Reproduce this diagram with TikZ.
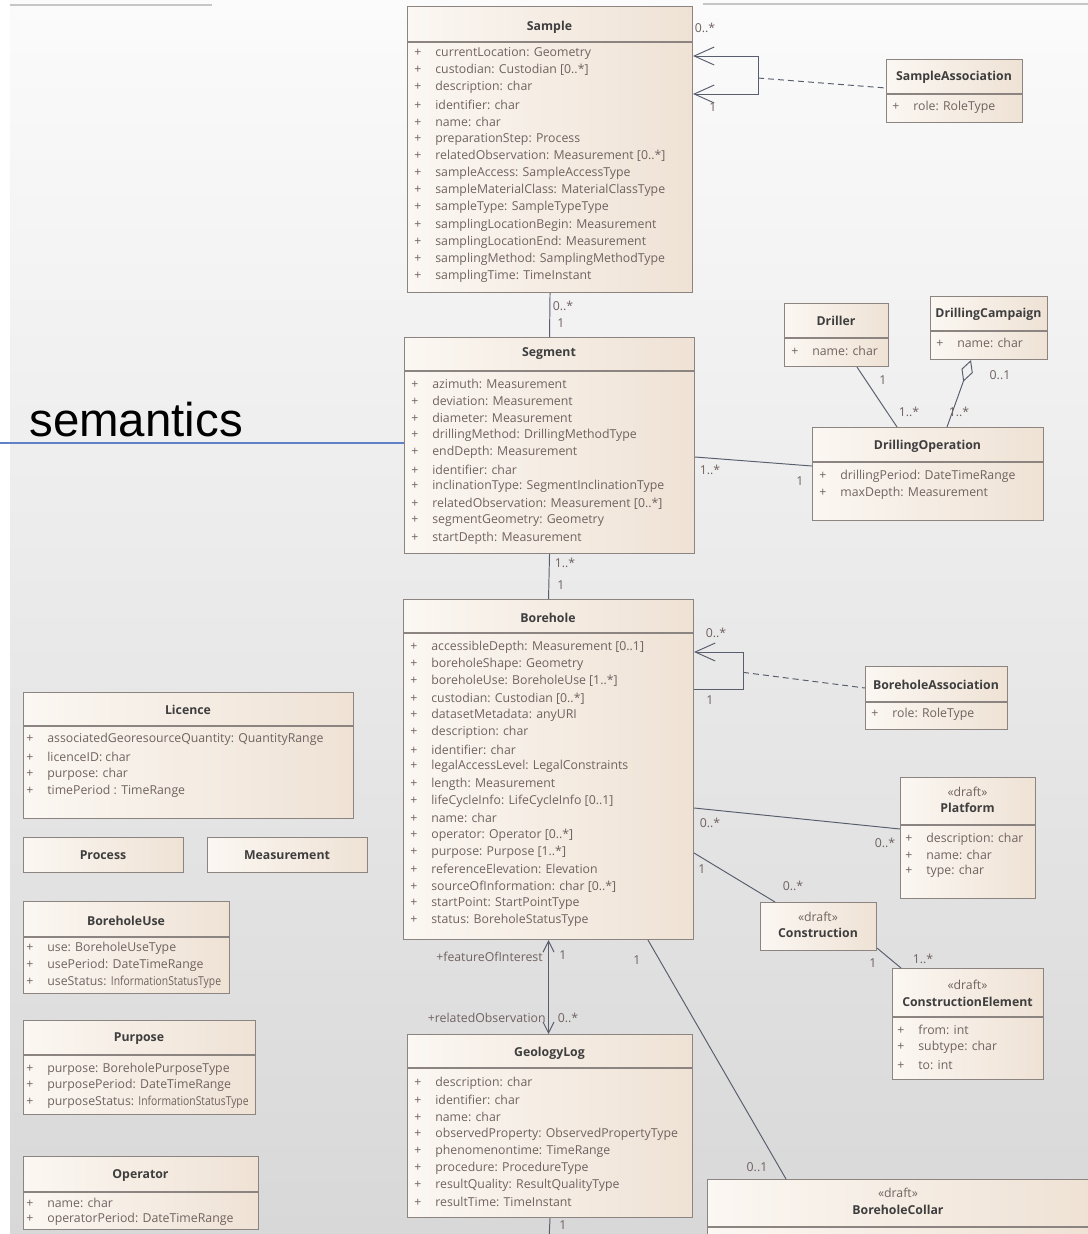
\documentclass[tikz,border=0pt]{standalone}
\usepackage{fontspec}
\usepackage{graphicx}
\newfontfamily\umlfont{Open Sans}
\newfontfamily\slidefont{Liberation Sans}
\usetikzlibrary{positioning, calc, arrows.meta}

\definecolor{boxleft}{RGB}{251,247,242}
\definecolor{boxright}{RGB}{239,226,213}
\definecolor{boxline}{RGB}{140,132,128}
\definecolor{linecol}{RGB}{88,94,110}
\definecolor{attrgray}{RGB}{112,98,96}
\definecolor{titlegray}{RGB}{62,62,62}
\definecolor{bgtop}{RGB}{251,251,251}
\definecolor{bgbot}{RGB}{216,216,216}
\definecolor{slideblue}{RGB}{96,128,200}

\newcommand{\pxu}{0.02cm}
\newcommand{\pl}{\makebox[0.42cm][l]{+}}
\newcommand{\squeezed}[1]{\scalebox{0.84}[1]{#1}}
\newcommand{\classsep}[2]{\draw[sepline] ($(#1.north west)+(0,#2)$) -- ($(#1.north east)+(0,#2)$);}

\tikzset{
  bigbarb/.tip={Straight Barb[length=4mm, width=3.6mm]},
  smallbarb/.tip={Straight Barb[length=2.2mm, width=2.2mm]},
  hollowdiamond/.tip={Diamond[open, length=4.6mm, width=2.4mm]}
}

\begin{document}
\begin{tikzpicture}[x=0.02cm, y=-0.02cm,
  umltext/.style={font=\umlfont\fontsize{7}{8}\selectfont, inner sep=0pt},
  classbox/.style={draw=boxline, line width=0.6pt, left color=boxleft, right color=boxright, inner sep=0pt, anchor=north west},
  sepline/.style={draw=boxline, line width=0.6pt},
  classtitle/.style={umltext, font=\umlfont\bfseries\fontsize{7}{8}\selectfont, text=titlegray},
  stereo/.style={umltext, text=attrgray},
  attr/.style={umltext, text=attrgray, anchor=west},
  mult/.style={umltext, text=attrgray},
  assoc/.style={draw=linecol, line width=0.55pt},
  assocdash/.style={assoc, dash pattern=on 1.2mm off 0.8mm}]

\useasboundingbox (0,0) rectangle (1088,1234);
\fill[white] (0,0) rectangle (1088,1234);
\fill[top color=bgtop, bottom color=bgbot] (10,0) rectangle (1088,1234);
\draw[gray!45, line width=0.6pt] (10,5) -- (212,5);
\draw[gray!45, line width=0.6pt] (703,4) -- (1088,4);

% main chain
\node[classbox, minimum width=285*\pxu, minimum height=286*\pxu] (sample) at (407,6) {};
\classsep{sample}{36}
\node[classtitle] (sample-t) at (549.5,27) {Sample};
\foreach \a [count=\i] in {currentLocation: Geometry, custodian: Custodian [0..*], description: char, identifier: char, name: char, preparationStep: Process, relatedObservation: Measurement [0..*], sampleAccess: SampleAccessType, sampleMaterialClass: MaterialClassType, sampleType: SampleTypeType, samplingLocationBegin: Measurement, samplingLocationEnd: Measurement, samplingMethod: SamplingMethodType, samplingTime: TimeInstant}
  \node[attr] (sample-\i) at (414,{53+(\i-1)*17.2}) {\pl\a};

\node[classbox, minimum width=290*\pxu, minimum height=216*\pxu] (segment) at (404,337) {};
\classsep{segment}{34}
\node[classtitle] (segment-t) at (549,354) {Segment};
\foreach \a [count=\i] in {azimuth: Measurement, deviation: Measurement, diameter: Measurement, drillingMethod: DrillingMethodType, endDepth: Measurement, identifier: char, inclinationType: SegmentInclinationType, relatedObservation: Measurement [0..*], segmentGeometry: Geometry, startDepth: Measurement}
  \node[attr] (segment-\i) at (411,{384+(\i-1)*17.1}) {\pl\a};

\node[classbox, minimum width=290*\pxu, minimum height=340*\pxu] (borehole) at (403,599) {};
\classsep{borehole}{34}
\node[classtitle] (borehole-t) at (548,618) {Borehole};
\foreach \a [count=\i] in {accessibleDepth: Measurement [0..1], boreholeShape: Geometry, boreholeUse: BoreholeUse [1..*], custodian: Custodian [0..*], datasetMetadata: anyURI, description: char, identifier: char, legalAccessLevel: LegalConstraints, length: Measurement, lifeCycleInfo: LifeCycleInfo [0..1], name: char, operator: Operator [0..*], purpose: Purpose [1..*], referenceElevation: Elevation, sourceOfInformation: char [0..*], startPoint: StartPointType, status: BoreholeStatusType}
  \node[attr] (borehole-\i) at (410,{647+(\i-1)*17.1}) {\pl\a};

\node[classbox, minimum width=285*\pxu, minimum height=183*\pxu] (geolog) at (407,1034) {};
\classsep{geolog}{34}
\node[classtitle] (geolog-t) at (549.5,1053) {GeologyLog};
\foreach \a [count=\i] in {description: char, identifier: char, name: char, observedProperty: ObservedPropertyType, phenomenontime: TimeRange, procedure: ProcedureType, resultQuality: ResultQualityType, resultTime: TimeInstant}
  \node[attr] (geolog-\i) at (414,{1083+(\i-1)*17}) {\pl\a};

% right side
\node[classbox, minimum width=136*\pxu, minimum height=63*\pxu] (sampleassoc) at (886,59) {};
\classsep{sampleassoc}{35}
\node[classtitle] (sampleassoc-t) at (954,77) {SampleAssociation};
\node[attr] (sampleassoc-1) at (892,107) {\pl role: RoleType};

\node[classbox, minimum width=104*\pxu, minimum height=63*\pxu] (driller) at (784,303) {};
\classsep{driller}{35}
\node[classtitle] (driller-t) at (836,321) {Driller};
\node[attr] (driller-1) at (791,351) {\pl name: char};

\node[classbox, minimum width=117*\pxu, minimum height=63*\pxu] (campaign) at (930,296) {};
\classsep{campaign}{35}
\node[classtitle] (campaign-t) at (988.5,314) {DrillingCampaign};
\node[attr] (campaign-1) at (936,343) {\pl name: char};

\node[classbox, minimum width=231*\pxu, minimum height=93*\pxu] (drillop) at (812,427) {};
\classsep{drillop}{35}
\node[classtitle] (drillop-t) at (927.5,446) {DrillingOperation};
\node[attr] (drillop-1) at (819,476) {\pl drillingPeriod: DateTimeRange};
\node[attr] (drillop-2) at (819,493) {\pl maxDepth: Measurement};

\node[classbox, minimum width=142*\pxu, minimum height=63*\pxu] (boreassoc) at (865,666) {};
\classsep{boreassoc}{36}
\node[classtitle] (boreassoc-t) at (936,685) {BoreholeAssociation};
\node[attr] (boreassoc-1) at (871,714) {\pl role: RoleType};

\node[classbox, minimum width=135*\pxu, minimum height=121*\pxu] (platform) at (900,777) {};
\classsep{platform}{48}
\node[stereo] (platform-s) at (967.5,792) {«draft»};
\node[classtitle] (platform-t) at (967.5,808) {Platform};
\foreach \a [count=\i] in {description: char, name: char, type: char}
  \node[attr] (platform-\i) at (905,{839+(\i-1)*16.3}) {\pl\a};

\node[classbox, minimum width=116*\pxu, minimum height=48*\pxu] (construction) at (760,902) {};
\node[stereo] (construction-s) at (818,917) {«draft»};
\node[classtitle] (construction-t) at (818,933) {Construction};

\node[classbox, minimum width=151*\pxu, minimum height=111*\pxu] (conselem) at (892,968) {};
\classsep{conselem}{49}
\node[stereo] (conselem-s) at (967.5,985) {«draft»};
\node[classtitle] (conselem-t) at (967.5,1002) {ConstructionElement};
\foreach \a [count=\i] in {from: int, subtype: char, to: int}
  \node[attr] (conselem-\i) at (897,{1030+(\i-1)*17.3}) {\pl\a};

\node[classbox, minimum width=382*\pxu, minimum height=80*\pxu] (collar) at (707,1179) {};
\classsep{collar}{48}
\node[stereo] (collar-s) at (898,1193) {«draft»};
\node[classtitle] (collar-t) at (898,1210) {BoreholeCollar};

% left side
\node[classbox, minimum width=330*\pxu, minimum height=126*\pxu] (licence) at (23,692) {};
\classsep{licence}{34}
\node[classtitle] (licence-t) at (188,710) {Licence};
\foreach \a [count=\i] in {associatedGeoresourceQuantity: QuantityRange, licenceID: char, purpose: char, timePeriod : TimeRange}
  \node[attr] (licence-\i) at (26,{739+(\i-1)*17.5}) {\pl\a};

\node[classbox, minimum width=160*\pxu, minimum height=35*\pxu] (process) at (23,837) {};
\node[classtitle] (process-t) at (103,855) {Process};
\node[classbox, minimum width=160*\pxu, minimum height=35*\pxu] (measurement) at (207,837) {};
\node[classtitle] (measurement-t) at (287,855) {Measurement};

\node[classbox, minimum width=206*\pxu, minimum height=92*\pxu] (boreuse) at (23,901) {};
\classsep{boreuse}{36}
\node[classtitle] (boreuse-t) at (126,921) {BoreholeUse};
\foreach \a [count=\i] in {use: BoreholeUseType, usePeriod: DateTimeRange, useStatus: \squeezed{InformationStatusType}}
  \node[attr] (boreuse-\i) at (26,{948+(\i-1)*17}) {\pl\a};

\node[classbox, minimum width=232*\pxu, minimum height=94*\pxu] (purpose) at (23,1020) {};
\classsep{purpose}{35}
\node[classtitle] (purpose-t) at (139,1039) {Purpose};
\foreach \a [count=\i] in {purpose: BoreholePurposeType, purposePeriod: DateTimeRange, purposeStatus: \squeezed{InformationStatusType}}
  \node[attr] (purpose-\i) at (26,{1069+(\i-1)*16.7}) {\pl\a};

\node[classbox, minimum width=235*\pxu, minimum height=73*\pxu] (operator) at (23,1156) {};
\classsep{operator}{36}
\node[classtitle] (operator-t) at (140.5,1176) {Operator};
\foreach \a [count=\i] in {name: char, operatorPeriod: DateTimeRange}
  \node[attr] (operator-\i) at (26,{1203+(\i-1)*16.5}) {\pl\a};

% slide label
\node[font=\slidefont\fontsize{27}{30}\selectfont, inner sep=0pt, anchor=base west] (semantics) at (29,436) {semantics};
\coordinate (semleft) at (0,443);
\draw[slideblue, line width=0.8pt] (semleft) -- (semleft -| segment.west);

% connectors
\draw[assoc, bigbarb-bigbarb] ($(sample.north east)+(0,50)$) -- ++(65,0) coordinate (sloop-a) -- ++(0,38) coordinate (sloop-b) -- ($(sample.north east)+(0,88)$);
\coordinate (sloop) at ($(sloop-a)!0.58!(sloop-b)$);
\draw[assocdash] (sloop) -- ($(sampleassoc.north west)+(0,29)$);
\draw[assoc] (sample.south) -- (segment.north);
\draw[assoc] ($(segment.north east)+(0,120)$) -- ($(drillop.north west)+(0,39)$);
\draw[assoc] ($(driller.south west)+(73,0)$) -- ($(drillop.north west)+(85,0)$);
\draw[assoc, hollowdiamond-] ($(campaign.south west)+(41,0)$) -- ($(drillop.north west)+(135,0)$);
\draw[assoc] (segment.south) -- (borehole.north);
\draw[assoc, bigbarb-] ($(borehole.north east)+(0,53)$) -- ++(49,0) coordinate (bloop-a) -- ++(0,37) coordinate (bloop-b) -- ($(borehole.north east)+(0,90)$);
\coordinate (bloop) at ($(bloop-a)!0.55!(bloop-b)$);
\draw[assocdash] (bloop) -- ($(boreassoc.north west)+(0,22)$);
\draw[assoc] ($(borehole.north east)+(0,209)$) -- ($(platform.north west)+(0,52)$);
\draw[assoc] ($(borehole.north east)+(0,254)$) -- ($(construction.north west)+(15,0)$);
\draw[assoc] ($(construction.south east)+(0,-3)$) -- ($(conselem.north west)+(9,0)$);
\draw[assoc] ($(borehole.south west)+(245,0)$) -- ($(collar.north west)+(79,0)$);
\draw[assoc, smallbarb-smallbarb] (borehole.south) -- (borehole.south |- geolog.north);
\coordinate (geoend) at (549,1240);
\draw[assoc] (geolog.south) -- (geoend);

% multiplicities
\node[mult] (m-s1) at (705,28) {0..*};
\node[mult] (m-s2) at (713,107) {1};
\node[mult] (m-ss1) at (563,306) {0..*};
\node[mult] (m-ss2) at (561,323) {1};
\node[mult] (m-sd1) at (710,470) {1..*};
\node[mult] (m-sd2) at (800,481) {1};
\node[mult] (m-dr1) at (883,380) {1};
\node[mult] (m-dr2) at (909,412) {1..*};
\node[mult] (m-dc1) at (1000,375) {0..1};
\node[mult] (m-dc2) at (959,412) {1..*};
\node[mult] (m-sb1) at (565,563) {1..*};
\node[mult] (m-sb2) at (561,585) {1};
\node[mult] (m-b1) at (716,633) {0..*};
\node[mult] (m-b2) at (710,700) {1};
\node[mult] (m-p1) at (710,823) {0..*};
\node[mult] (m-p2) at (885,843) {0..*};
\node[mult] (m-c1) at (702,869) {1};
\node[mult] (m-c2) at (793,886) {0..*};
\node[mult] (m-ce1) at (873,963) {1};
\node[mult] (m-ce2) at (923,959) {1..*};
\node[mult] (m-bc1) at (637,960) {1};
\node[mult] (m-bc2) at (757,1167) {0..1};
\node[mult, anchor=east] (m-g1) at (543,957) {+featureOfInterest};
\node[mult] (m-g2) at (563,955) {1};
\node[mult, anchor=east] (m-g3) at (546,1018) {+relatedObservation};
\node[mult] (m-g4) at (568,1018) {0..*};
\node[mult] (m-g5) at (563,1225) {1};
\end{tikzpicture}
\end{document}
